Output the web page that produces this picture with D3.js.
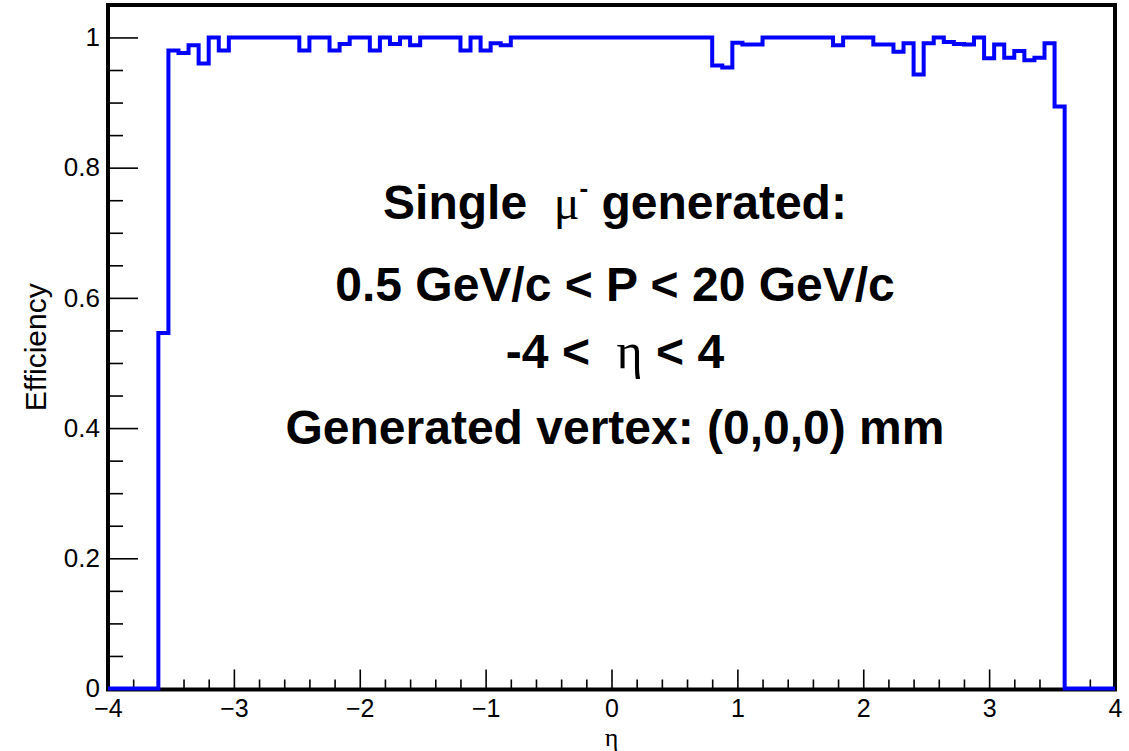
<!DOCTYPE html>
<html>
<head>
<meta charset="utf-8">
<script src="https://cdn.jsdelivr.net/npm/d3@7"></script>
<style>
  html, body { margin: 0; padding: 0; background: #fff; }
  svg { display: block; }
  .tick text { font-family: "Liberation Sans", Arial, sans-serif; }
</style>
</head>
<body>
<svg id="chart" width="1129" height="751"></svg>
<script>
// Pseudorapidity binning: 100 bins between -4 and 4
const etaMin = -4;
const etaMax = 4;
const nBins = 100;

// Reconstruction efficiency per eta bin
const efficiency = [
  0, 0, 0, 0, 0, 0.546, 0.980, 0.976, 0.988, 0.960,
  1, 0.980, 1, 1, 1, 1, 1, 1, 1, 0.980,
  1, 1, 0.980, 0.990, 1, 1, 0.980, 1, 0.990, 1,
  0.988, 1, 1, 1, 1, 0.980, 1, 0.980, 0.991, 0.988,
  1, 1, 1, 1, 1, 1, 1, 1, 1, 1,
  1, 1, 1, 1, 1, 1, 1, 1, 1, 1,
  0.957, 0.954, 0.992, 0.989, 0.989, 1, 1, 1, 1, 1,
  1, 1, 0.988, 1, 1, 1, 0.989, 0.989, 0.978, 0.991,
  0.943, 0.991, 1, 0.993, 0.990, 0.989, 1, 0.968, 0.989, 0.969,
  0.979, 0.965, 0.969, 0.991, 0.894, 0, 0, 0, 0, 0
];

// Axis tick values and labels
const xMajorTicks = [-4, -3, -2, -1, 0, 1, 2, 3, 4];
const yMajorTicks = [0, 0.2, 0.4, 0.6, 0.8, 1];
const yTickLabels = ["0", "0.2", "0.4", "0.6", "0.8", "1"];

const xTitle = "η";
const yTitle = "Efficiency";

const sans = '"Liberation Sans", Arial, Helvetica, sans-serif';
const serif = '"Liberation Serif", "Times New Roman", serif';

const svg = d3.select("#chart");
svg.append("rect").attr("width", 1129).attr("height", 751).attr("fill", "#fff");

const frame = { left: 108, right: 1115, top: 5, bottom: 689.5 };
const x = d3.scaleLinear().domain([etaMin, etaMax]).range([frame.left, frame.right]);
const y = d3.scaleLinear().domain([0, 1.05]).range([688.5, 4.9]);

// Minor ticks
const xMinor = d3.range(etaMin, etaMax + 1e-9, 0.2).filter(v => Math.abs(v - Math.round(v)) > 1e-6);
const yMinor = d3.range(0, 1.0001, 0.05).filter(v => Math.abs(v * 5 - Math.round(v * 5)) > 1e-6);

// Y axis (ticks point inward)
const yAxisMajor = d3.axisLeft(y)
  .tickValues(yMajorTicks)
  .tickSize(-30)
  .tickPadding(8)
  .tickFormat((d, i) => yTickLabels[i]);
const gy = svg.append("g").attr("transform", `translate(${frame.left},0)`).call(yAxisMajor);
gy.select(".domain").remove();
gy.selectAll(".tick line").attr("stroke", "#000").attr("stroke-width", 1.6);
gy.selectAll(".tick text").attr("font-size", 26).attr("fill", "#000").attr("font-family", sans);

const yAxisMinor = d3.axisLeft(y).tickValues(yMinor).tickSize(-15).tickFormat("");
const gy2 = svg.append("g").attr("transform", `translate(${frame.left},0)`).call(yAxisMinor);
gy2.select(".domain").remove();
gy2.selectAll(".tick line").attr("stroke", "#000").attr("stroke-width", 1.6);

// X axis (ticks point inward)
const xAxisMajor = d3.axisBottom(x)
  .tickValues(xMajorTicks)
  .tickSize(-20)
  .tickPadding(10)
  .tickFormat(d => (d < 0 ? "\u2212" + Math.abs(d) : String(d)));
const gx = svg.append("g").attr("transform", `translate(0,${frame.bottom})`).call(xAxisMajor);
gx.select(".domain").remove();
gx.selectAll(".tick line").attr("stroke", "#000").attr("stroke-width", 1.6);
gx.selectAll(".tick text").attr("font-size", 25).attr("fill", "#000").attr("font-family", sans);

const xAxisMinor = d3.axisBottom(x).tickValues(xMinor).tickSize(-10).tickFormat("");
const gx2 = svg.append("g").attr("transform", `translate(0,${frame.bottom})`).call(xAxisMinor);
gx2.select(".domain").remove();
gx2.selectAll(".tick line").attr("stroke", "#000").attr("stroke-width", 1.6);

// Frame
svg.append("rect")
  .attr("x", frame.left).attr("y", frame.top)
  .attr("width", frame.right - frame.left).attr("height", frame.bottom - frame.top)
  .attr("fill", "none").attr("stroke", "#000").attr("stroke-width", 4);

// Histogram outline as a step line
const binWidth = (etaMax - etaMin) / nBins;
const pts = efficiency.map((v, i) => [etaMin + i * binWidth, v]);
pts.push([etaMax, efficiency[efficiency.length - 1]]);
const step = d3.line().x(d => x(d[0])).y(d => y(d[1])).curve(d3.curveStepAfter);
svg.append("path")
  .attr("d", step(pts))
  .attr("fill", "none")
  .attr("stroke", "#0000ff")
  .attr("stroke-width", 4)
  .attr("stroke-linejoin", "miter");

// Axis titles
svg.append("text")
  .attr("transform", `translate(46,${(frame.top + frame.bottom) / 2}) rotate(-90)`)
  .attr("text-anchor", "middle")
  .attr("font-family", sans).attr("font-size", 30).attr("fill", "#000")
  .text(yTitle);

svg.append("text")
  .attr("x", x(0)).attr("y", 746)
  .attr("text-anchor", "middle")
  .attr("font-family", serif).attr("font-size", 26).attr("fill", "#000")
  .text(xTitle);

// Annotation block
const cx = 615;
const fs = 48;
const ann = svg.append("g").attr("font-family", sans).attr("font-weight", "bold")
  .attr("font-size", fs).attr("fill", "#000");

const l1 = ann.append("text").attr("x", cx).attr("y", 219).attr("text-anchor", "middle")
  .attr("xml:space", "preserve");
l1.append("tspan").text("Single  ");
l1.append("tspan").attr("font-family", serif).attr("font-weight", "normal").attr("font-size", 48).text("μ");
l1.append("tspan").attr("font-size", 26).attr("dy", -22).text("-");
l1.append("tspan").attr("dy", 22).text(" generated:");

ann.append("text").attr("x", cx).attr("y", 301).attr("text-anchor", "middle")
  .text("0.5 GeV/c < P < 20 GeV/c");

const l3 = ann.append("text").attr("x", cx).attr("y", 368).attr("text-anchor", "middle")
  .attr("xml:space", "preserve");
l3.append("tspan").text("-4 <  ");
l3.append("tspan").attr("font-family", serif).attr("font-weight", "normal").attr("font-size", 50).text("η");
l3.append("tspan").text(" < 4");

ann.append("text").attr("x", cx).attr("y", 444).attr("text-anchor", "middle")
  .text("Generated vertex: (0,0,0) mm");
</script>
</body>
</html>
